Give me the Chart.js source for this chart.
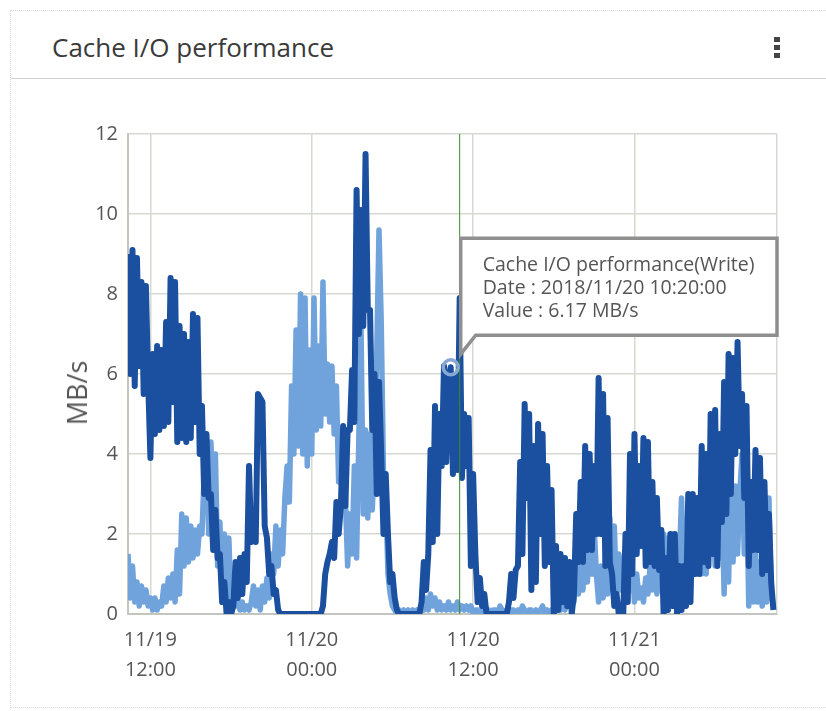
<!DOCTYPE html>
<html>
<head>
<meta charset="utf-8">
<title>Cache I/O performance</title>
<script src="https://cdn.jsdelivr.net/npm/chart.js@4.4.0/dist/chart.umd.min.js"></script>
<style>
  html, body { margin: 0; padding: 0; background: #fff; overflow: hidden; }
  body { width: 826px; height: 711px; position: relative; font-family: "Open Sans", sans-serif; }
  #card { position: absolute; left: 10px; top: 10px; width: 840px; height: 696px; border: 1px dotted #d9d9d9; }
  #title { position: absolute; left: 52px; top: 30px; font-size: 26px; line-height: 34px; color: #3a3a3a; }
  #menu { position: absolute; left: 774px; top: 37px; width: 6px; }
  #menu span { display: block; width: 6px; height: 5px; margin-bottom: 3px; background: #454545; }
  #sep { position: absolute; left: 11px; top: 78px; width: 815px; height: 1px; background: #d2d5cf; }
  #ytitle { position: absolute; left: 77px; top: 393px; transform: translate(-50%, -50%) rotate(-90deg);
            font-size: 27px; line-height: 30px; color: #555; white-space: nowrap; z-index: 2; }
  #chart { position: absolute; left: 0; top: 0; }
</style>
</head>
<body>
<div id="card"></div>
<div id="title">Cache I/O performance</div>
<div id="menu"><span></span><span></span><span></span></div>
<div id="sep"></div>
<div id="ytitle">MB/s</div>
<canvas id="chart" width="826" height="711"></canvas>
<script>
// time axis in hours counted from 11/19 00:00, one sample every 10 minutes
const startHour = 10 + 20 / 60;
const stepHours = 10 / 60;
const axisEndHour = 58.6;

const writeValues = [
  9.0, 6.0, 9.1, 5.7, 8.9, 6.2, 8.3, 5.5, 8.2, 5.8,
  3.9, 6.5, 4.5, 6.7, 4.6, 6.6, 4.7, 7.3, 4.8, 8.4,
  5.3, 8.3, 4.3, 7.2, 4.4, 7.0, 4.3, 6.8, 4.4, 7.5,
  4.8, 7.4, 4.0, 5.2, 3.0, 4.5, 2.9, 3.0, 1.6, 2.6,
  1.4, 1.5, 0.3, 0.8, 0.0, 0.3, 0.0, 0.2, 1.3, 0.4,
  1.4, 0.5, 1.5, 0.8, 3.7, 1.8, 2.5, 1.8, 5.5, 5.4,
  5.3, 2.2, 1.9, 1.0, 1.2, 0.5, 0.6, 0.1, 0.0, 0.0,
  0.0, 0.0, 0.0, 0.0, 0.0, 0.0, 0.0, 0.0, 0.0, 0.0,
  0.0, 0.0, 0.0, 0.0, 0.0, 0.0, 0.0, 0.2, 1.0, 1.3,
  1.5, 1.8, 1.4, 2.8, 2.0, 2.7, 4.7, 2.7, 4.6, 4.6,
  6.1, 4.8, 10.6, 7.0, 10.1, 7.2, 11.5, 7.6, 7.6, 4.6,
  6.0, 3.0, 5.8, 4.0, 2.0, 3.5, 2.0, 0.8, 1.0, 0.4,
  0.1, 0.0, 0.0, 0.0, 0.0, 0.0, 0.0, 0.0, 0.0, 0.0,
  0.0, 0.3, 1.3, 0.6, 1.5, 4.1, 1.8, 5.2, 2.0, 5.0,
  3.7, 6.2, 3.8, 5.9, 6.17, 3.5, 5.9, 3.6, 7.9, 3.4,
  5.0, 3.7, 4.9, 1.2, 3.5, 1.5, 0.3, 0.9, 0.2, 0.5,
  0.0, 0.0, 0.0, 0.0, 0.0, 0.0, 0.0, 0.0, 0.0, 0.0,
  0.3, 1.0, 0.4, 1.1, 1.2, 3.8, 1.5, 5.25, 2.9, 5.0,
  0.6, 4.2, 0.8, 4.75, 2.0, 4.5, 1.2, 3.7, 1.3, 3.1,
  0.0, 1.7, 0.1, 1.5, 0.3, 1.4, 0.2, 1.3, 0.0, 0.5,
  2.5, 1.3, 3.3, 1.3, 4.2, 1.6, 4.0, 1.6, 3.7, 2.0,
  5.9, 2.0, 5.5, 1.2, 4.9, 1.3, 1.0, 0.2, 0.5, 0.0,
  0.2, 0.0, 2.0, 0.3, 4.0, 1.0, 4.5, 1.5, 3.7, 1.7,
  4.4, 1.2, 4.3, 1.3, 3.3, 1.2, 2.9, 1.1, 2.1, 0.0,
  1.4, 0.1, 2.0, 0.2, 2.0, 0.0, 1.2, 0.1, 1.2, 0.2,
  3.0, 0.3, 3.0, 1.0, 2.9, 1.0, 4.2, 1.3, 4.0, 1.2,
  5.0, 1.5, 5.1, 1.2, 4.5, 2.3, 5.8, 2.5, 6.5, 3.0,
  6.4, 4.0, 6.8, 4.2, 5.5, 2.9, 5.2, 1.2, 3.3, 1.6,
  4.1, 1.6, 3.9, 1.0, 3.3, 1.1, 2.5, 0.8, 0.1
];

const readValues = [
  1.5, 0.4, 1.2, 0.3, 0.8, 0.2, 0.7, 0.3, 0.6, 0.2,
  0.4, 0.1, 0.4, 0.1, 0.3, 0.2, 0.7, 0.3, 0.9, 0.4,
  1.0, 0.3, 1.6, 0.5, 2.5, 1.2, 2.4, 1.3, 2.2, 1.4,
  2.1, 1.5, 2.2, 2.0, 3.5, 4.4, 2.0, 4.3, 2.5, 4.0,
  1.2, 2.3, 0.5, 2.0, 0.6, 1.9, 0.2, 1.0, 0.2, 0.3,
  0.1, 0.3, 0.1, 0.2, 0.1, 0.3, 0.7, 0.2, 0.6, 0.1,
  0.7, 0.3, 0.9, 0.4, 1.5, 1.0, 2.2, 1.2, 2.1, 1.5,
  2.9, 3.7, 2.8, 5.7, 4.0, 7.1, 4.2, 8.0, 4.0, 7.9,
  3.7, 6.6, 4.0, 7.9, 4.6, 6.7, 4.7, 8.3, 5.0, 6.25,
  4.8, 6.2, 4.5, 5.7, 3.3, 4.2, 3.0, 2.9, 1.2, 2.5,
  1.5, 3.7, 1.4, 4.4, 7.1, 2.5, 4.6, 2.4, 4.5, 2.6,
  4.0, 6.5, 9.6, 7.3, 3.5, 3.0, 1.0, 0.5, 0.2, 0.1,
  0.0, 0.1, 0.0, 0.1, 0.0, 0.1, 0.0, 0.1, 0.0, 0.1,
  0.0, 0.2, 0.1, 0.4, 0.1, 0.5, 0.2, 0.4, 0.1, 0.3,
  0.1, 0.2, 0.1, 0.3, 0.1, 0.2, 0.1, 0.3, 0.1, 0.2,
  0.1, 0.2, 0.1, 0.2, 0.0, 0.1, 0.1, 0.0, 0.1, 0.2,
  0.0, 0.1, 0.0, 0.1, 0.1, 0.0, 0.2, 0.1, 0.0, 0.1,
  0.0, 0.1, 0.1, 0.0, 0.1, 0.0, 0.2, 0.1, 0.0, 0.1,
  0.1, 0.0, 0.1, 0.0, 0.1, 0.2, 0.0, 0.1, 0.0, 0.1,
  0.0, 0.1, 0.2, 0.1, 0.3, 0.1, 0.3, 0.2, 0.5, 0.3,
  1.0, 0.5, 1.6, 0.6, 1.8, 0.8, 2.2, 1.0, 2.2, 1.0,
  0.3, 1.2, 0.4, 1.2, 0.5, 2.4, 0.6, 2.2, 0.5, 1.5,
  0.6, 1.4, 0.5, 1.5, 0.6, 1.2, 0.3, 1.0, 0.4, 0.65,
  0.3, 0.9, 0.5, 1.2, 0.6, 1.1, 0.5, 1.2, 0.6, 2.0,
  1.2, 1.9, 1.3, 2.0, 1.2, 1.8, 1.3, 2.9, 1.2, 2.2,
  1.4, 2.5, 1.2, 2.0, 1.0, 2.0, 1.0, 1.9, 1.0, 3.0,
  1.5, 2.8, 1.2, 3.0, 1.4, 3.0, 0.5, 2.8, 0.8, 3.4,
  1.3, 3.2, 1.5, 3.0, 4.0, 1.5, 3.5, 0.2, 1.9, 0.3,
  1.5, 0.3, 1.3, 0.2, 1.2, 0.3, 2.9, 0.5, 0.2
];

const tickHours = [12, 24, 36, 48];
const tickLabels = [['11/19', '12:00'], ['11/20', '00:00'], ['11/20', '12:00'], ['11/21', '00:00']];

const tooltipIndex = 144; // 2018/11/20 10:20
const tooltipLines = ['Cache I/O performance(Write)', 'Date : 2018/11/20 10:20:00', 'Value : 6.17 MB/s'];
const cursorHour = 35;

function toPoints(values) {
  return values.map((v, i) => ({ x: startHour + i * stepHours, y: v }));
}

const overlay = {
  id: 'overlay',
  afterDatasetsDraw(chart) {
    const { ctx, chartArea, scales } = chart;
    ctx.save();

    // cursor line
    const cx = scales.x.getPixelForValue(cursorHour);
    ctx.strokeStyle = '#3d8b2b';
    ctx.lineWidth = 1;
    ctx.beginPath();
    ctx.moveTo(cx, chartArea.top);
    ctx.lineTo(cx, chartArea.bottom);
    ctx.stroke();

    // highlighted point
    const pt = chart.getDatasetMeta(0).data[tooltipIndex];
    ctx.strokeStyle = '#88a8d3';
    ctx.lineWidth = 3.5;
    ctx.beginPath();
    ctx.arc(pt.x, pt.y, 7.5, 0, Math.PI * 2);
    ctx.stroke();

    // tooltip box with callout
    const left = pt.x + 10, right = chartArea.right;
    const top = pt.y - 129, bottom = pt.y - 32;
    ctx.beginPath();
    ctx.moveTo(left, top);
    ctx.lineTo(right, top);
    ctx.lineTo(right, bottom);
    ctx.lineTo(left + 15, bottom);
    ctx.lineTo(left, bottom + 19);
    ctx.closePath();
    ctx.fillStyle = '#fff';
    ctx.fill();
    ctx.strokeStyle = '#8f8f8f';
    ctx.lineWidth = 3.5;
    ctx.stroke();

    ctx.fillStyle = '#555';
    ctx.font = '19.5px "Open Sans"';
    ctx.textBaseline = 'middle';
    tooltipLines.forEach((t, i) => ctx.fillText(t, left + 22, top + 27 + i * 23));
    ctx.restore();
  }
};

new Chart(document.getElementById('chart'), {
  type: 'line',
  data: {
    datasets: [
      {
        label: 'Cache I/O performance(Write)',
        data: toPoints(writeValues),
        borderColor: '#1b4f9f',
        borderWidth: 6,
        borderJoinStyle: 'round',
        pointRadius: 0,
        tension: 0
      },
      {
        label: 'Cache I/O performance(Read)',
        data: toPoints(readValues),
        borderColor: '#70a3dc',
        borderWidth: 5.5,
        borderJoinStyle: 'round',
        pointRadius: 0,
        tension: 0
      }
    ]
  },
  options: {
    responsive: false,
    animation: false,
    events: [],
    layout: { padding: { left: 60, right: 49, top: 134, bottom: 0 } },
    plugins: { legend: { display: false }, tooltip: { enabled: false } },
    scales: {
      x: {
        type: 'linear',
        min: startHour,
        max: axisEndHour,
        afterBuildTicks: axis => {
          axis.ticks = [startHour, ...tickHours, axisEndHour].map(v => ({ value: v }));
        },
        afterFit: scale => { scale.height = 97; },
        ticks: {
          autoSkip: false,
          maxRotation: 0,
          padding: 11,
          color: '#555',
          font: { family: 'Open Sans', size: 20, lineHeight: 1.5 },
          callback: value => {
            const i = tickHours.indexOf(value);
            return i >= 0 ? tickLabels[i] : '';
          }
        },
        grid: { color: '#d6d9d2', lineWidth: 1.5, drawTicks: false },
        border: { display: true, color: '#c3c6bf', width: 2 }
      },
      y: {
        min: 0,
        max: 12,
        afterFit: scale => { scale.width = 68; },
        ticks: {
          stepSize: 2,
          padding: 10,
          color: '#555',
          font: { family: 'Open Sans', size: 20 }
        },
        grid: { color: '#d6d9d2', lineWidth: 1.5, drawTicks: false },
        border: { display: true, color: '#c3c6bf', width: 2 }
      }
    }
  },
  plugins: [overlay]
});
</script>
</body>
</html>
